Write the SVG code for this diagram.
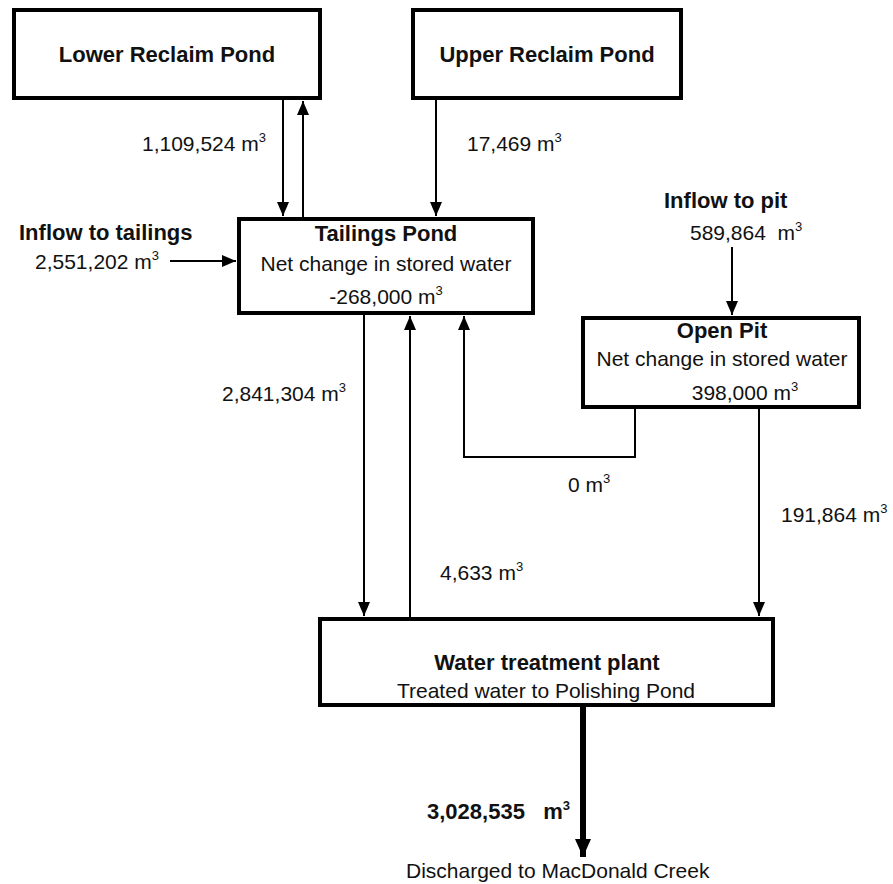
<svg xmlns="http://www.w3.org/2000/svg" width="893" height="884" viewBox="0 0 893 884">
<style>
.box{fill:#fff;stroke:#000;stroke-width:4}
.ln{fill:none;stroke:#000;stroke-width:2}
.t{font-family:"Liberation Sans",Arial,sans-serif;font-size:21px;fill:#111}
.b{font-family:"Liberation Sans",Arial,sans-serif;font-size:22px;font-weight:bold;fill:#111}
.m{text-anchor:middle}
</style>
<defs>
<marker id="ah" markerUnits="userSpaceOnUse" markerWidth="14" markerHeight="12" refX="14" refY="6" orient="auto">
<path d="M0,0 L14,6 L0,12 z" fill="#000"/>
</marker>
<marker id="ahb" markerUnits="userSpaceOnUse" markerWidth="18" markerHeight="16" refX="18" refY="8" orient="auto">
<path d="M0,0 L18,8 L0,16 z" fill="#000"/>
</marker>
</defs>
<g id="connectors">
<line class="ln" x1="283" y1="100" x2="283" y2="216" marker-end="url(#ah)"/>
<line class="ln" x1="303" y1="217" x2="303" y2="101" marker-end="url(#ah)"/>
<line class="ln" x1="436" y1="100" x2="436" y2="216" marker-end="url(#ah)"/>
<line class="ln" x1="170" y1="261" x2="236" y2="261" marker-end="url(#ah)"/>
<line class="ln" x1="732" y1="247" x2="732" y2="315" marker-end="url(#ah)"/>
<line class="ln" x1="364" y1="315" x2="364" y2="616" marker-end="url(#ah)"/>
<line class="ln" x1="410" y1="617" x2="410" y2="316" marker-end="url(#ah)"/>
<polyline class="ln" points="635,409 635,457 464,457 464,316" marker-end="url(#ah)"/>
<line class="ln" x1="759" y1="409" x2="759" y2="616" marker-end="url(#ah)"/>
<line x1="583" y1="707" x2="583" y2="857" stroke="#000" stroke-width="6" marker-end="url(#ahb)"/>
</g>
<g id="lower-reclaim">
<rect class="box" x="14" y="10" width="306" height="88"/>
<text class="b m" x="167" y="62">Lower Reclaim Pond</text>
</g>
<g id="upper-reclaim">
<rect class="box" x="413" y="10" width="268" height="88"/>
<text class="b m" x="547" y="62">Upper Reclaim Pond</text>
</g>
<g id="tailings">
<rect class="box" x="239" y="219" width="294" height="94"/>
<text class="b m" x="386" y="241">Tailings Pond</text>
<text class="t m" x="386" y="271">Net change in stored water</text>
<text class="t m" x="386" y="304">-268,000 m<tspan dy="-9" font-size="13">3</tspan></text>
</g>
<g id="open-pit">
<rect class="box" x="583" y="318" width="276" height="89"/>
<text class="b m" x="722" y="338">Open Pit</text>
<text class="t m" x="722" y="366">Net change in stored water</text>
<text class="t m" x="745" y="400">398,000 m<tspan dy="-9" font-size="13">3</tspan></text>
</g>
<g id="wtp">
<rect class="box" x="320" y="619" width="453" height="86"/>
<text class="b m" x="547" y="670">Water treatment plant</text>
<text class="t m" x="546" y="698">Treated water to Polishing Pond</text>
</g>
<g id="labels">
<text class="t" x="142" y="151">1,109,524 m<tspan dy="-9" font-size="13">3</tspan></text>
<text class="t" x="467" y="151">17,469 m<tspan dy="-9" font-size="13">3</tspan></text>
<text class="b" x="19" y="240">Inflow to tailings</text>
<text class="t" x="35" y="269">2,551,202 m<tspan dy="-9" font-size="13">3</tspan></text>
<text class="b" x="664" y="208">Inflow to pit</text>
<text class="t" x="690" y="240" xml:space="preserve">589,864  m<tspan dy="-9" font-size="13">3</tspan></text>
<text class="t" x="222" y="401">2,841,304 m<tspan dy="-9" font-size="13">3</tspan></text>
<text class="t" x="568" y="492">0 m<tspan dy="-9" font-size="13">3</tspan></text>
<text class="t" x="781" y="522">191,864 m<tspan dy="-9" font-size="13">3</tspan></text>
<text class="t" x="440" y="580">4,633 m<tspan dy="-9" font-size="13">3</tspan></text>
<text class="b" x="427" y="819" xml:space="preserve">3,028,535   m<tspan dy="-9" font-size="13">3</tspan></text>
<text class="t" x="406" y="878">Discharged to MacDonald Creek</text>
</g>
</svg>
